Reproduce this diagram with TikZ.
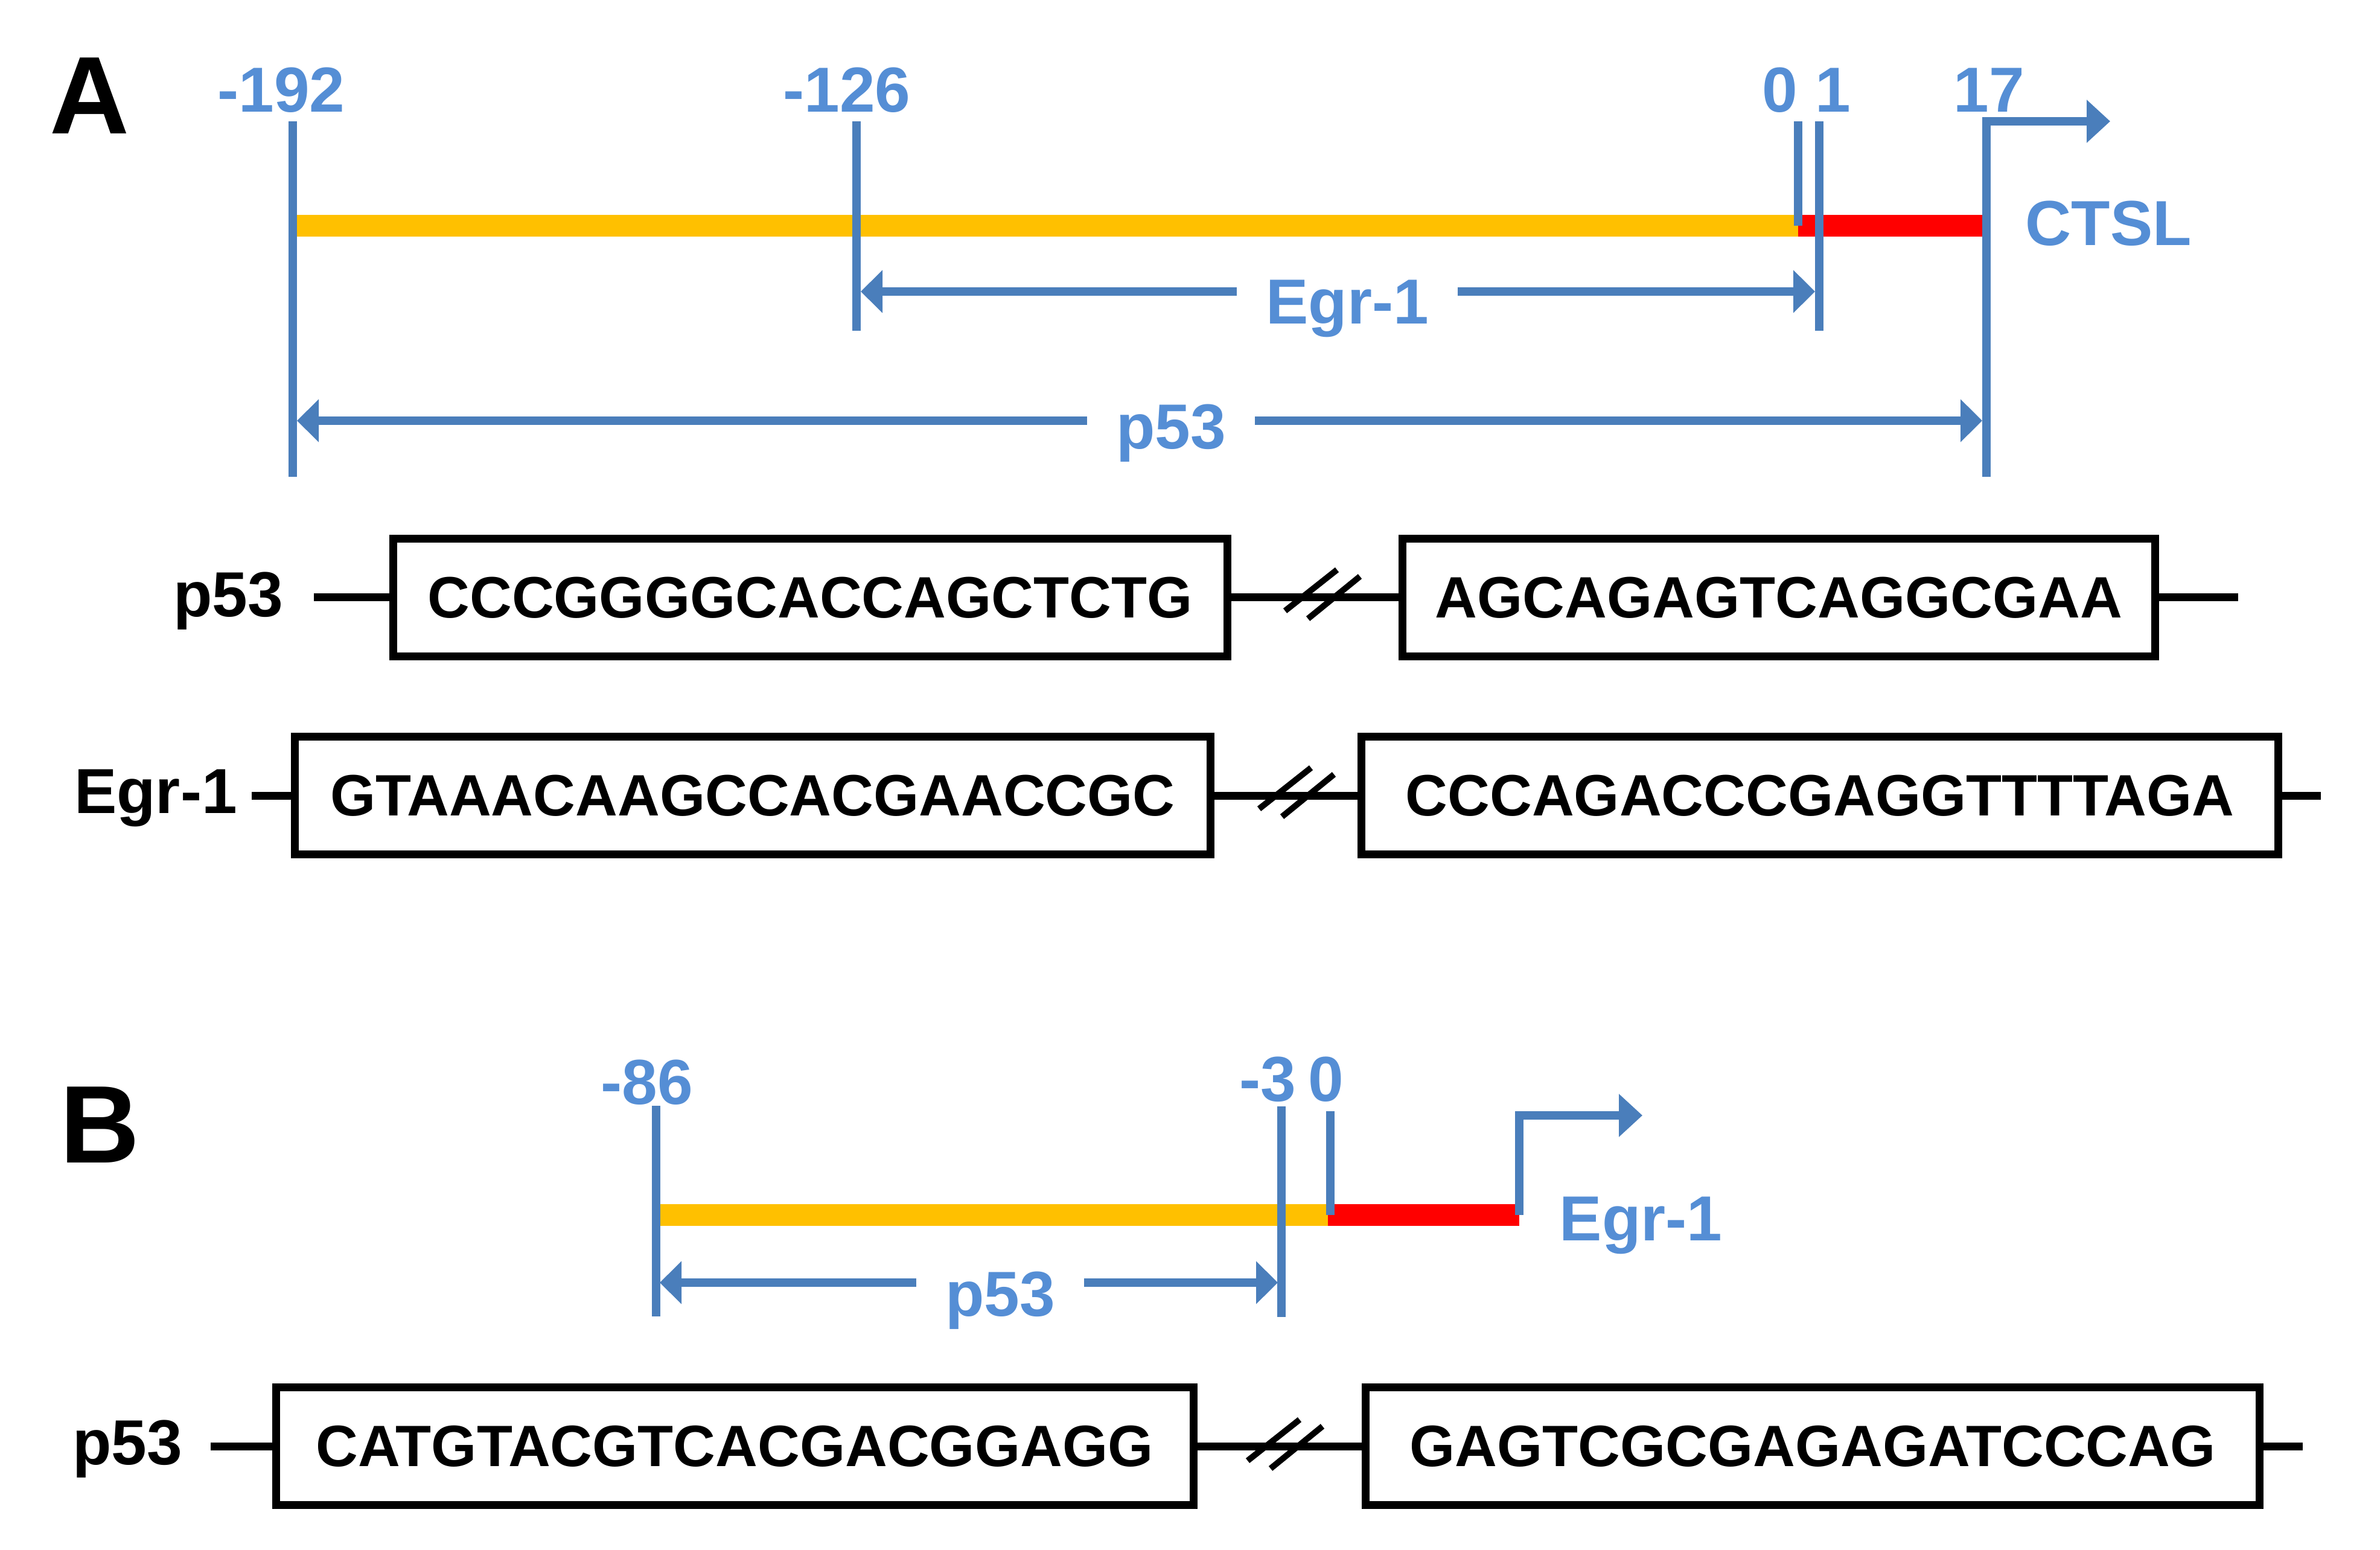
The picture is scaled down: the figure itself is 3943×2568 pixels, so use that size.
\documentclass[tikz,border=0pt]{standalone}
\usepackage{fontspec}
\setmainfont{Liberation Sans}
\usetikzlibrary{arrows.meta}
\usetikzlibrary{calc}
\definecolor{lineblue}{HTML}{4A7EBB}
\definecolor{textblue}{HTML}{558ED5}
\definecolor{baryellow}{HTML}{FFC000}
\tikzset{
    sitetick/.style = {draw=lineblue, line width=1.4mm},
    dimarrow/.style = {draw=lineblue, line width=1.4mm, {Triangle[length=3.6mm,width=6.9mm]}-{Triangle[length=3.6mm,width=6.9mm]}},
    tss/.style = {draw=lineblue, line width=1.4mm, -{Triangle[length=3.9mm,width=6.9mm]}},
    sitelabel/.style = {text=textblue, font=\fontsize{30}{32}\selectfont\bfseries, inner sep=0pt, anchor=base},
    dimlabel/.style = {sitelabel, fill=white, inner xsep=4.8mm},
    promoter/.style = {draw=baryellow, line width=3.6mm},
    exon/.style = {draw=red, line width=3.6mm},
    seqbox/.style = {draw, line width=1.3mm, minimum height=19.5mm, inner sep=0pt, font=\fontsize{27.5}{30}\selectfont\bfseries},
    seqlabel/.style = {font=\fontsize{30}{32}\selectfont\bfseries, inner sep=0pt, anchor=base},
    seqlink/.style = {line width=1.3mm},
    panel/.style = {font=\fontsize{52}{56}\selectfont\bfseries, inner sep=0pt, anchor=base},
    brk/.pic = {\draw[line width=1mm] (-62,28) -- (24,-40) (-24,41) -- (62,-29);}}

\begin{document}
\begin{tikzpicture}[x=0.1mm,y=-0.1mm]
    \fill[white] (0,0) rectangle (3943,2568);
    \useasboundingbox (0,0) rectangle (3943,2568);

    % A
    \node[panel] (A) at (148,222) {A};
    \node[sitelabel] (l192) at (466,186) {-192};
    \node[sitelabel] (l126) at (1403,186) {-126};
    \node[sitelabel] (l0) at (2949,186) {0};
    \node[sitelabel] (l1) at (3037,186) {1};
    \node[sitelabel] (l17) at (3295,186) {17};
    \node[sitelabel, anchor=base west] (ctsl) at (3355,407) {CTSL};
    \coordinate (t192) at (485,201);  \coordinate (b192) at (485,790);
    \coordinate (t126) at (1419,201); \coordinate (b126) at (1419,548);
    \coordinate (t0) at (2979,201);   \coordinate (b0) at (2979,374);
    \coordinate (t1) at (3014,201);   \coordinate (b1) at (3014,548);
    \coordinate (t17) at (3291,201);  \coordinate (b17) at (3291,790);
    \coordinate (tssA) at (3496,201);
    \draw[promoter] (b192 |- b0) -- (b0);
    \draw[exon] (b0) -- (b17 |- b0);
    \draw[sitetick] (t192) -- (b192) (t126) -- (b126) (t0) -- (b0) (t1) -- (b1);
    \draw[tss] (b17) -- (t17) -- (tssA);
    \coordinate (egrL) at (1426,483); \coordinate (egrR) at (3007,483);
    \coordinate (p53L) at (492,697);  \coordinate (p53R) at (3284,697);
    \draw[dimarrow] (egrL) -- (egrR);
    \draw[dimarrow] (p53L) -- (p53R);
    \node[dimlabel] (egrA) at (2232,537) {Egr-1};
    \node[dimlabel] (p53A) at (1940,744) {p53};

    \node[seqlabel] (p53Arow) at (378,1022) {p53};
    \coordinate (p53Ain) at (520,990);
    \node[seqbox, minimum width=138.2mm] (p53A1) at (1342,990) {CCCGGGGCACCAGCTCTG};
    \node[seqbox, minimum width=124.7mm] (p53A2) at (2947,990) {AGCAGAGTCAGGCGAA};
    \coordinate (p53Aout) at (3708,990);
    \draw[seqlink] (p53Ain) -- (p53A1) (p53A1) -- (p53A2) (p53A2) -- (p53Aout);
    \pic at (2191,984) {brk};

    \node[seqlabel] (egrArow) at (258,1347) {Egr-1};
    \coordinate (egrAin) at (417,1318);
    \node[seqbox, minimum width=151.7mm] (egrA1) at (1247,1318) {GTAAACAAGCCACGAACCGC};
    \node[seqbox, minimum width=151.9mm] (egrA2) at (3015,1318) {CCCAGACCCGAGGTTTTAGA};
    \coordinate (egrAout) at (3845,1318);
    \draw[seqlink] (egrAin) -- (egrA1) (egrA1) -- (egrA2) (egrA2) -- (egrAout);
    \pic at (2148,1312) {brk};

    % B
    \node[panel] (B) at (165,1926) {B};
    \node[sitelabel] (l86) at (1072,1829) {-86};
    \node[sitelabel] (l3) at (2100,1824) {-3};
    \node[sitelabel] (l0B) at (2197,1824) {0};
    \node[sitelabel, anchor=base west] (egrB) at (2583,2055) {Egr-1};
    \coordinate (t86) at (1087,1832); \coordinate (b86) at (1087,2181);
    \coordinate (t3) at (2123,1833);  \coordinate (b3) at (2123,2182);
    \coordinate (t0B) at (2204,1841); \coordinate (b0B) at (2204,2013);
    \coordinate (tssBb) at (2517,2013); \coordinate (tssBt) at (2517,1848);
    \coordinate (tssB) at (2721,1848);
    \draw[promoter] (b86 |- b0B) -- (2200,2013);
    \draw[exon] (2200,2013) -- (tssBb);
    \draw[sitetick] (t86) -- (b86) (t3) -- (b3) (t0B) -- (b0B);
    \draw[tss] (tssBb) -- (tssBt) -- (tssB);
    \coordinate (p53BL) at (1093,2125); \coordinate (p53BR) at (2117,2125);
    \draw[dimarrow] (p53BL) -- (p53BR);
    \node[dimlabel] (p53B) at (1657,2180) {p53};

    \node[seqlabel] (p53Brow) at (211,2426) {p53};
    \coordinate (p53Bin) at (349,2396);
    \node[seqbox, minimum width=152mm] (p53B1) at (1217,2396) {CATGTACGTCACGACGGAGG};
    \node[seqbox, minimum width=148.1mm] (p53B2) at (3003,2396) {GAGTCGCGAGAGATCCCAG};
    \coordinate (p53Bout) at (3815,2396);
    \draw[seqlink] (p53Bin) -- (p53B1) (p53B1) -- (p53B2) (p53B2) -- (p53Bout);
    \pic at (2129,2392) {brk};
\end{tikzpicture}
\end{document}
